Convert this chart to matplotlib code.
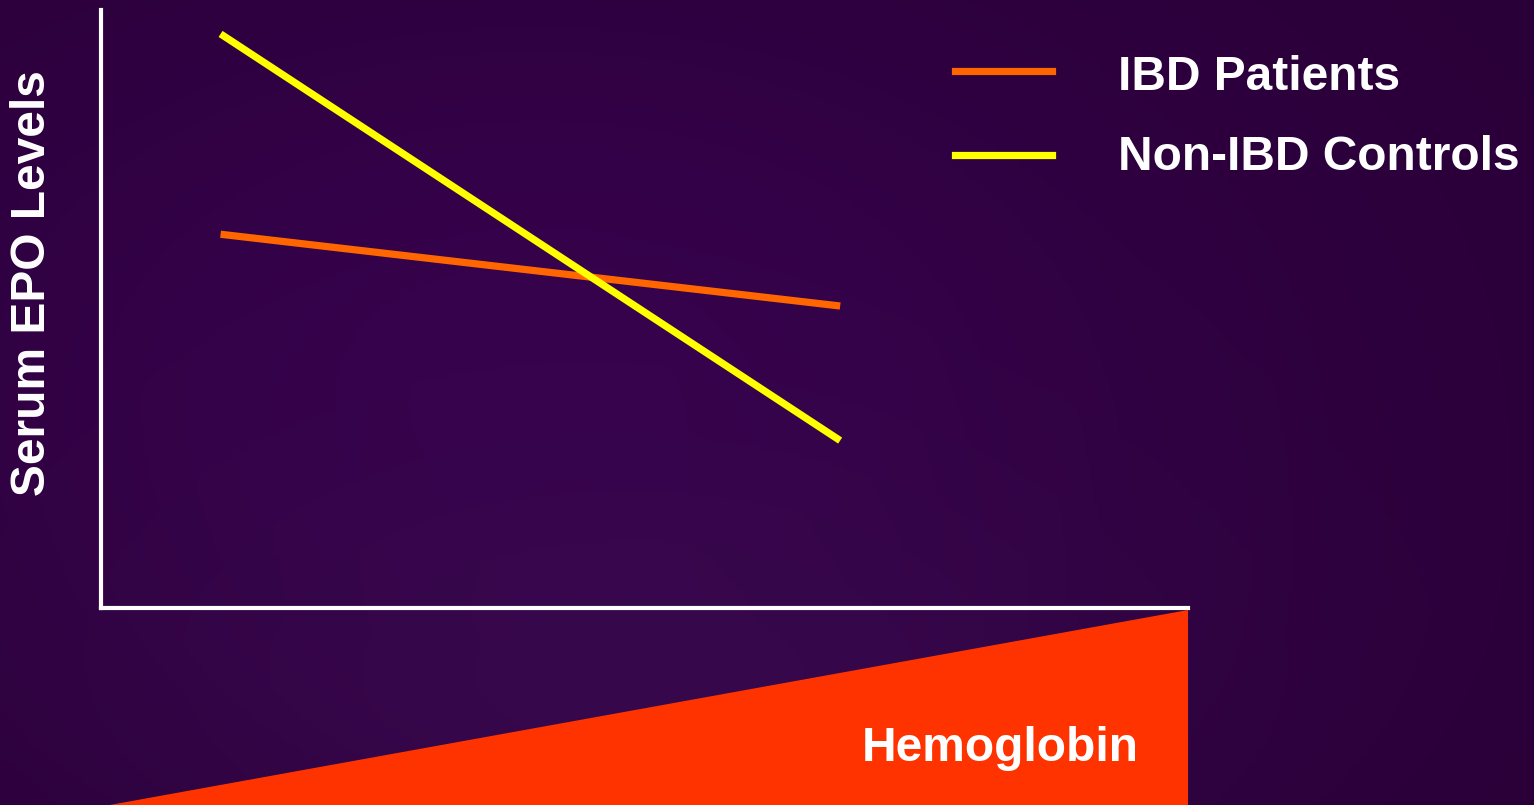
import numpy as np
import matplotlib
matplotlib.use("Agg")
import matplotlib.pyplot as plt

plt.rcParams['font.family'] = ['Liberation Sans', 'DejaVu Sans']

# Schematic: serum EPO vs hemoglobin
hb = [1.1, 6.8]
ibd_patients = [6.25, 5.05]
non_ibd_controls = [9.6, 2.8]
series_labels = ["IBD Patients", "Non-IBD Controls"]
series_colors = ["#FF6600", "#FFFF00"]

W, H = 1534, 805
fig = plt.figure(figsize=(W / 100, H / 100), dpi=100)

# Background: dark purple with a soft lighter patch near the lower middle
bg = fig.add_axes([0, 0, 1, 1])
yy, xx = np.mgrid[0:1:200j, 0:1:380j]
base = np.array([0x2a, 0x00, 0x38]) / 255.0
glow = np.array([0x3c, 0x0c, 0x52]) / 255.0
mid = np.array([0x36, 0x02, 0x4c]) / 255.0
d1 = np.exp(-(((xx - 0.42) / 0.35) ** 2 + ((yy - 0.85) / 0.3) ** 2))
d2 = np.exp(-(((xx - 0.35) / 0.45) ** 2 + ((yy - 0.45) / 0.5) ** 2))
img = base[None, None, :] * (1 - d2[..., None]) + mid[None, None, :] * d2[..., None]
img = img * (1 - 0.6 * d1[..., None]) + glow[None, None, :] * 0.6 * d1[..., None]
bg.imshow(img, extent=[0, 1, 0, 1], origin="upper", aspect="auto")
bg.set_axis_off()

# Main axes
ax_l, ax_r = 101 / W, 1188 / W
ax_b, ax_t = 1 - 608 / H, 1 - 10 / H
ax = fig.add_axes([ax_l, ax_b, ax_r - ax_l, ax_t - ax_b])
ax.patch.set_alpha(0)
ax.set_xlim(0, 10)
ax.set_ylim(0, 10)
for s in ["top", "right"]:
    ax.spines[s].set_visible(False)
for s in ["left", "bottom"]:
    ax.spines[s].set_color("white")
    ax.spines[s].set_linewidth(3)
ax.set_xticks([])
ax.set_yticks([])

ax.plot(hb, ibd_patients, color=series_colors[0], lw=5.2, solid_capstyle="butt")
ax.plot(hb, non_ibd_controls, color=series_colors[1], lw=5.2, solid_capstyle="butt")

# Legend drawn as line samples and labels
for i, (lab, col) in enumerate(zip(series_labels, series_colors)):
    y = 1 - (71 + 84 * i) / H
    fig.add_artist(plt.Line2D([955 / W, 1052 / W], [y, y], color=col, lw=5.2,
                              transform=fig.transFigure))
    fig.text(1118 / W, 1 - (77 + 80 * i) / H, lab, color="white", fontsize=34.5,
             fontweight="bold", va="center", ha="left")

fig.text(33 / W, 1 - 283 / H, "Serum EPO Levels", color="white", fontsize=34.5,
         fontweight="bold", rotation=90, va="center", ha="center")

# Rising wedge under the x axis for hemoglobin
wx = fig.add_axes([ax_l, 0, ax_r - ax_l, 1 - 610 / H])
wx.set_xlim(0, 10)
wx.set_ylim(0, 1)
wx.set_axis_off()
wx.fill([0.08, 10, 10], [0, 1, 0], color="#FF3300", lw=0)
wx.text(8.27, 0.29, "Hemoglobin", color="white", fontsize=34.5, fontweight="bold",
        ha="center", va="center")

fig.savefig("out.png", dpi=100)
